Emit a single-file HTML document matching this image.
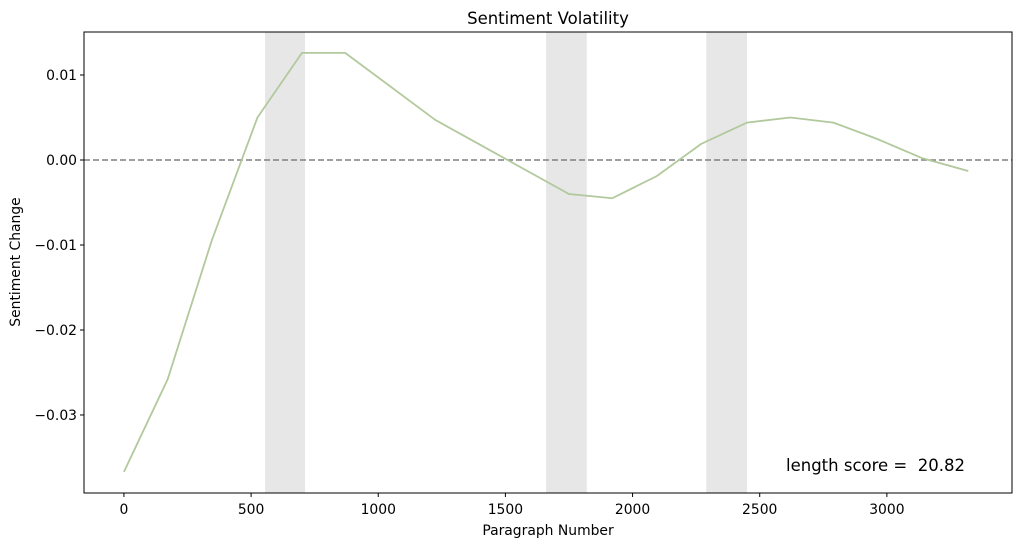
<!DOCTYPE html>
<html><head><meta charset="utf-8"><style>
body{margin:0;background:#fff;font-family:"Liberation Sans","DejaVu Sans",sans-serif;}
svg text{font-family:"DejaVu Sans","Liberation Sans",sans-serif;}
</style></head><body>
<svg id="chart" width="1021" height="547" xmlns="http://www.w3.org/2000/svg">
<rect width="1021" height="547" fill="#fff"/>
<g id="bands"></g>
<g id="grid"></g>
<g id="series"></g>
<rect x="84" y="32" width="928" height="461" fill="none" stroke="#000" stroke-width="1"/>
<text x="548" y="24" text-anchor="middle" font-size="16.5">Sentiment Volatility</text>
<text x="548" y="535" text-anchor="middle" font-size="13.9">Paragraph Number</text>
<text transform="translate(20,262) rotate(-90)" text-anchor="middle" font-size="13.9">Sentiment Change</text>
<text x="965" y="471" text-anchor="end" font-size="16.5" style="white-space:pre" xml:space="preserve">length score =  20.82</text>
</svg>
<script>
const xVals=[0,172,345,525,700,870,1225,1400,1750,1920,2095,2270,2450,2620,2790,2960,3140,3320];
const yVals=[-0.0367,-0.0258,-0.0095,0.0050,0.0126,0.0126,0.0047,0.0018,-0.0040,-0.0045,-0.0019,0.0019,0.0044,0.0050,0.0044,0.0025,0.0002,-0.0013];
const bandStarts=[555,1660,2290];
const bandEnds=[712,1820,2450];
const xTicks=[0,500,1000,1500,2000,2500,3000];
const yTicks=[0.01,0.00,-0.01,-0.02,-0.03];
const yTickLabels=["0.01","0.00","\u22120.01","\u22120.02","\u22120.03"];
const L=84,R=1012,T=32,B=493;
const xMin=-157,xMax=3492,yMin=-0.03918,yMax=0.01506;
const sx=v=>L+(v-xMin)/(xMax-xMin)*(R-L);
const sy=v=>B-(v-yMin)/(yMax-yMin)*(B-T);
const NS="http://www.w3.org/2000/svg";
function mk(tag,attrs,parent){const e=document.createElementNS(NS,tag);for(const k in attrs)e.setAttribute(k,attrs[k]);parent.appendChild(e);return e;}
const bands=document.getElementById('bands'),grid=document.getElementById('grid'),ser=document.getElementById('series');
bandStarts.forEach((s,i)=>{const r=mk('rect',{x:sx(s),y:T,width:sx(bandEnds[i])-sx(s),height:B-T,fill:'#e7e7e7'},bands);

});
xTicks.forEach(t=>{const x=sx(t);mk('line',{x1:x,x2:x,y1:B,y2:B+4,stroke:'#000'},grid);
const tx=mk('text',{x:x,y:B+21,'text-anchor':'middle','font-size':'13.9'},grid);tx.textContent=t;

});
yTicks.forEach((t,i)=>{const y=sy(t);mk('line',{x1:L-4,x2:L,y1:y,y2:y,stroke:'#000'},grid);
const tx=mk('text',{x:L-7,y:y+5,'text-anchor':'end','font-size':'13.9'},grid);tx.textContent=yTickLabels[i];

});
const zl=mk('line',{x1:L,x2:R,y1:sy(0),y2:sy(0),stroke:'#808080','stroke-width':1.6,'stroke-dasharray':'6,3'},ser);


const pts=xVals.map((x,i)=>sx(x)+','+sy(yVals[i])).join(' ');
const pl=mk('polyline',{points:pts,fill:'none',stroke:'#b1c99c','stroke-width':1.8},ser);


</script>
</body></html>
